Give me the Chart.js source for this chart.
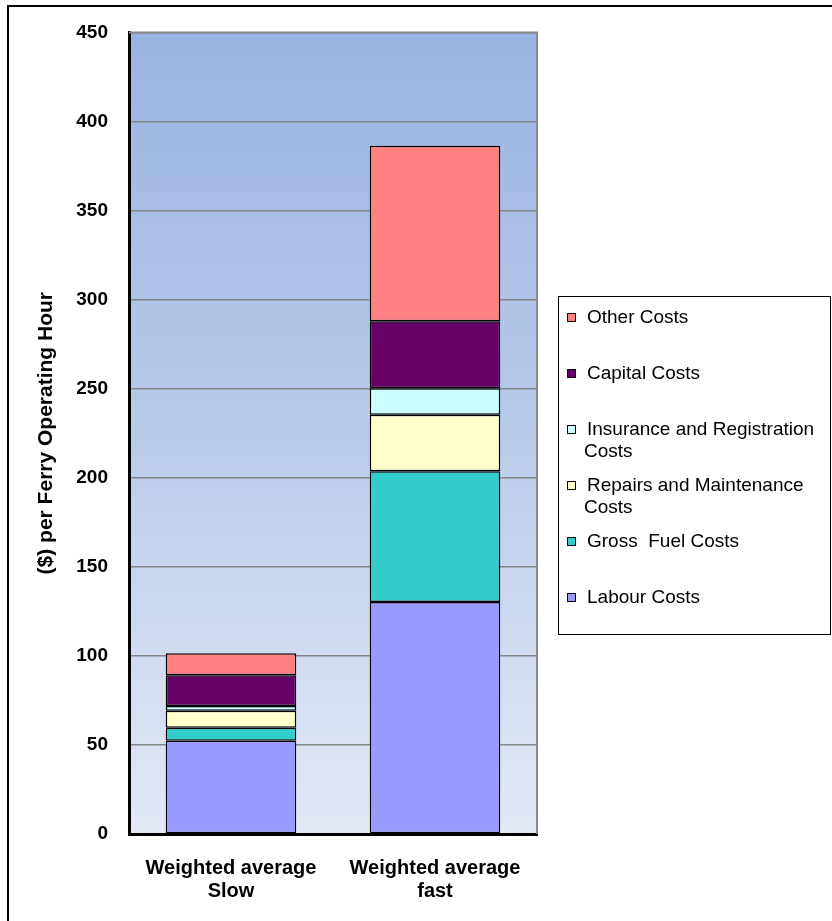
<!DOCTYPE html>
<html>
<head>
<meta charset="utf-8">
<title>Ferry operating costs per hour</title>
<script src="https://cdn.jsdelivr.net/npm/chart.js@4/dist/chart.umd.min.js"></script>
<style>
  html, body { margin: 0; padding: 0; background: #ffffff; }
  #wrap { position: relative; width: 832px; height: 921px; }
  canvas { display: block; }
</style>
</head>
<body>
<div id="wrap"><canvas id="chart" width="832" height="921"></canvas></div>
<script>
// Categories (two-line axis labels)
const categories = [
  ['Weighted average', 'Slow'],
  ['Weighted average', 'fast']
];

// Cost components, $ per ferry operating hour (stacked bottom to top)
const labourCosts       = [52.3, 130.2];
const grossFuelCosts    = [7.3, 73.4];
const repairsCosts      = [9.6, 31.7];
const insuranceCosts    = [2.6, 14.9];
const capitalCosts      = [17.3, 37.7];
const otherCosts        = [12.4, 98.5];

const seriesNames = [
  'Labour Costs',
  'Gross  Fuel Costs',
  'Repairs and Maintenance Costs',
  'Insurance and Registration Costs',
  'Capital Costs',
  'Other Costs'
];
const seriesColors = ['#9999FF', '#33CCCC', '#FFFFCC', '#CCFFFF', '#660066', '#FF8080'];

const yTicks = [0, 50, 100, 150, 200, 250, 300, 350, 400, 450];
const yTitle = '($) per Ferry Operating Hour';

const FONT = '"Liberation Sans", Arial, Helvetica, sans-serif';

const seriesValues = [labourCosts, grossFuelCosts, repairsCosts, insuranceCosts, capitalCosts, otherCosts];

const datasets = seriesValues.map((vals, i) => ({
  label: seriesNames[i],
  data: vals,
  backgroundColor: seriesColors[i],
  borderColor: '#000000',
  borderWidth: 1.5,
  borderSkipped: false,
  barPercentage: 0.64,
  categoryPercentage: 1.0
}));

// Gradient plot background, grey plot frame and outer chart frame
const plotBackground = {
  id: 'plotBackground',
  beforeDraw(chart) {
    const { ctx, chartArea: a } = chart;
    ctx.save();
    const g = ctx.createLinearGradient(0, a.top, 0, a.bottom);
    g.addColorStop(0, '#99B3E2');
    g.addColorStop(0.5, '#BACBEA');
    g.addColorStop(1, '#E3E9F5');
    ctx.fillStyle = g;
    ctx.fillRect(a.left, a.top, a.right - a.left, a.bottom - a.top);
    ctx.restore();
  },
  afterDraw(chart) {
    const { ctx, chartArea: a } = chart;
    ctx.save();
    ctx.strokeStyle = '#8a8a8a';
    ctx.lineWidth = 2;
    ctx.beginPath();
    ctx.moveTo(a.left, a.top);
    ctx.lineTo(a.right, a.top);
    ctx.lineTo(a.right, a.bottom);
    ctx.stroke();
    // outer frame (extends beyond right and bottom edges)
    ctx.strokeStyle = '#000000';
    ctx.lineWidth = 2;
    ctx.strokeRect(8, 6, 1000, 1100);
    ctx.restore();
  }
};

// Boxed legend listing the series from top of stack to bottom
const boxedLegend = {
  id: 'boxedLegend',
  afterDraw(chart) {
    const { ctx } = chart;
    const box = { x: 558.5, y: 296.5, w: 272, h: 338 };
    ctx.save();
    ctx.fillStyle = '#ffffff';
    ctx.fillRect(box.x, box.y, box.w, box.h);
    ctx.strokeStyle = '#000000';
    ctx.lineWidth = 1;
    ctx.strokeRect(box.x, box.y, box.w, box.h);

    ctx.font = '19px ' + FONT;
    ctx.textBaseline = 'middle';
    ctx.textAlign = 'left';
    const maxW = 240;
    const ds = chart.data.datasets.slice().reverse();
    ds.forEach((d, i) => {
      const cy = 318 + i * 56;
      // swatch
      ctx.fillStyle = d.backgroundColor;
      ctx.fillRect(567.5, cy - 4.5, 8, 8);
      ctx.strokeStyle = '#000000';
      ctx.lineWidth = 1;
      ctx.strokeRect(567.5, cy - 4.5, 8, 8);
      // wrapped label
      const words = d.label.split(' ');
      const lines = [];
      let cur = '';
      words.forEach(w => {
        const test = cur ? cur + ' ' + w : w;
        if (cur && ctx.measureText(test).width > maxW) {
          lines.push(cur);
          cur = w;
        } else {
          cur = test;
        }
      });
      lines.push(cur);
      ctx.fillStyle = '#000000';
      lines.forEach((ln, j) => {
        ctx.fillText(ln, j === 0 ? 587 : 584, cy + j * 22);
      });
    });
    ctx.restore();
  }
};

new Chart(document.getElementById('chart'), {
  type: 'bar',
  data: { labels: categories, datasets },
  plugins: [plotBackground, boxedLegend],
  options: {
    responsive: false,
    animation: false,
    events: [],
    layout: { padding: { left: 0, right: 295, top: 31, bottom: 0 } },
    plugins: {
      legend: { display: false },
      tooltip: { enabled: false }
    },
    scales: {
      x: {
        stacked: true,
        grid: { display: false, drawTicks: false },
        border: { display: true, color: '#000000', width: 3 },
        ticks: {
          color: '#000000',
          padding: 23,
          font: { family: FONT, size: 20, weight: 'bold', lineHeight: 1.15 }
        },
        afterFit(scale) { scale.height = 87; }
      },
      y: {
        stacked: true,
        min: 0,
        max: 450,
        afterBuildTicks(scale) { scale.ticks = yTicks.map(v => ({ value: v })); },
        grid: {
          color: (c) => (c.tick && c.tick.value === 0 ? 'rgba(0,0,0,0)' : '#858585'),
          lineWidth: 1.5,
          drawTicks: false
        },
        border: { display: true, color: '#000000', width: 3 },
        ticks: {
          color: '#000000',
          padding: 21,
          font: { family: FONT, size: 19, weight: 'bold' }
        },
        title: {
          display: true,
          text: yTitle,
          color: '#000000',
          padding: { top: 34, bottom: 0 },
          font: { family: FONT, size: 21, weight: 'bold', lineHeight: 1.2 }
        },
        afterFit(scale) { scale.width = 129; }
      }
    }
  }
});
</script>
</body>
</html>
